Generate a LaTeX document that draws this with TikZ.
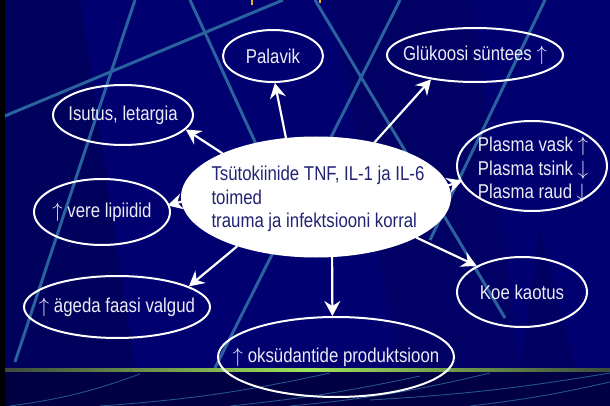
\documentclass[tikz,border=0pt]{standalone}
\usepackage{fontspec}
\setmainfont{Liberation Sans}[FakeStretch=0.84]
\usetikzlibrary{shapes.geometric,arrows.meta}

\definecolor{bgnavy}{RGB}{0,0,112}
\definecolor{bgdark}{RGB}{0,0,60}
\definecolor{bandnavy}{RGB}{0,0,66}
\definecolor{streakblue}{RGB}{42,98,158}
\definecolor{txtnavy}{RGB}{35,35,115}
\definecolor{txtwhite}{RGB}{236,236,246}
\definecolor{glowgreen}{RGB}{160,228,90}
\definecolor{glowdim}{RGB}{60,75,60}
\definecolor{titleyellow}{RGB}{240,180,30}

\newcommand{\upar}{$\uparrow$}
\newcommand{\downar}{$\downarrow$}

\tikzset{
  bubble/.style={ellipse, draw=white, line width=2pt, inner sep=0pt},
  bubtxt/.style={text=txtwhite, font=\fontsize{20}{23.5}\selectfont, inner sep=0pt},
  arr/.style={white, line width=2.2pt, -{Stealth[length=15pt, width=16pt, inset=5pt]}},
  streak/.style={streakblue, line width=3pt},
  thinstreak/.style={streakblue, line width=0.9pt, opacity=0.85}
}

\begin{document}
\begin{tikzpicture}[x=1pt, y=-1pt]
    % Draw Background
    \useasboundingbox (0,0) rectangle (610,406);
    \fill[bgnavy] (0,0) rectangle (610,406);
    \fill[bgdark, opacity=0.35] (5,0) -- (80,0) -- (135,368) -- (5,368) -- cycle;
    \fill[bgdark, opacity=0.2] (330,0) -- (472,0) -- (520,368) -- (400,368) -- cycle;
    \fill[bgdark, opacity=0.25] (540,230) -- (575,368) -- (520,368) -- cycle;

    % Background Streaks
    \draw[streak] (0,118) -- (283,0);
    \draw[streak] (135,0) -- (15,362);
    \draw[streak] (190,0) -- (300,240);
    \draw[streak] (315,0) -- (505,318);
    \draw[streak] (400,0) -- (215,368);
    \draw[streak] (545,0) -- (430,240);

    % -- title remains
    \draw[titleyellow, line width=1.6pt] (252,0) -- (252,5);
    \draw[titleyellow, line width=1.6pt] (320,0) -- (320,3);

    % Bottom Band
    \fill[bandnavy] (0,371) rectangle (610,406);
    \draw[thinstreak] (10,406) to[bend right=6] (140,374);
    \draw[thinstreak] (100,406) to[bend right=4] (330,373);
    \draw[thinstreak] (230,406) to[bend right=3] (420,376);
    \draw[thinstreak] (290,406) to[bend right=4] (490,373);
    \draw[thinstreak] (370,400) to[bend right=3] (610,373);
    \draw[thinstreak] (470,406) to[bend right=3] (610,382);
    \shade[left color=glowdim, right color=glowdim, middle color=glowgreen]
        (5,368.5) rectangle (610,371.5);
    \fill[black] (0,0) rectangle (5,406);

    % Draw Bubbles
    \node[bubble, fill=white, minimum width=268pt, minimum height=119pt] (cyt) at (316,197) {};
    \node[bubble, minimum width=100pt, minimum height=52pt] (pal) at (273,56) {};
    \node[bubble, minimum width=176pt, minimum height=54pt] (glu) at (475,55) {};
    \node[bubble, minimum width=140pt, minimum height=60pt] (isu) at (123,115) {};
    \node[bubble, minimum width=136pt, minimum height=66pt] (ver) at (102,212) {};
    \node[bubble, minimum width=186pt, minimum height=62pt] (age) at (117,307) {};
    \node[bubble, minimum width=150pt, minimum height=90pt] (pla) at (532,166) {};
    \node[bubble, minimum width=130pt, minimum height=70pt] (koe) at (522,292) {};
    \node[bubble, minimum width=236pt, minimum height=80pt] (oks) at (336,357) {};

    % Bubble Labels
    \node[bubtxt, text=txtnavy, align=left] (cyt-txt) at (318,199)
        {Tsütokiinide TNF, IL-1 ja IL-6\\toimed\\trauma ja infektsiooni korral};
    \node[bubtxt] (pal-txt) at (pal) {Palavik};
    \node[bubtxt] (glu-txt) at (glu) {Glükoosi süntees \upar};
    \node[bubtxt] (isu-txt) at (isu) {Isutus, letargia};
    \node[bubtxt] (ver-txt) at (ver) {\upar{} vere lipiidid};
    \node[bubtxt] (age-txt) at (age) {\upar{} ägeda faasi valgud};
    \node[bubtxt, align=left] (pla-txt) at (533,170) {Plasma vask \upar\\Plasma tsink \downar\\Plasma raud \downar};
    \node[bubtxt] (koe-txt) at (koe) {Koe kaotus};
    \node[bubtxt] (oks-txt) at (oks) {\upar{} oksüdantide produktsioon};

    % Arrows
    \draw[arr] (cyt.117) -- (pal.274);
    \draw[arr] (cyt.43) -- (glu.209);
    \draw[arr] (cyt.155) -- (isu.347);
    \draw[arr, shorten <=-10pt, shorten >=-2pt] (cyt.182) -- (ver.6);
    \draw[arr] (cyt.212) -- (age.16);
    \draw[arr] (cyt.285) -- (oks.95);
    \draw[arr] (cyt.338) -- (koe.150);
    \draw[arr, shorten <=-10pt, shorten >=-2pt] (cyt.5) -- (pla.192);
\end{tikzpicture}
\end{document}
